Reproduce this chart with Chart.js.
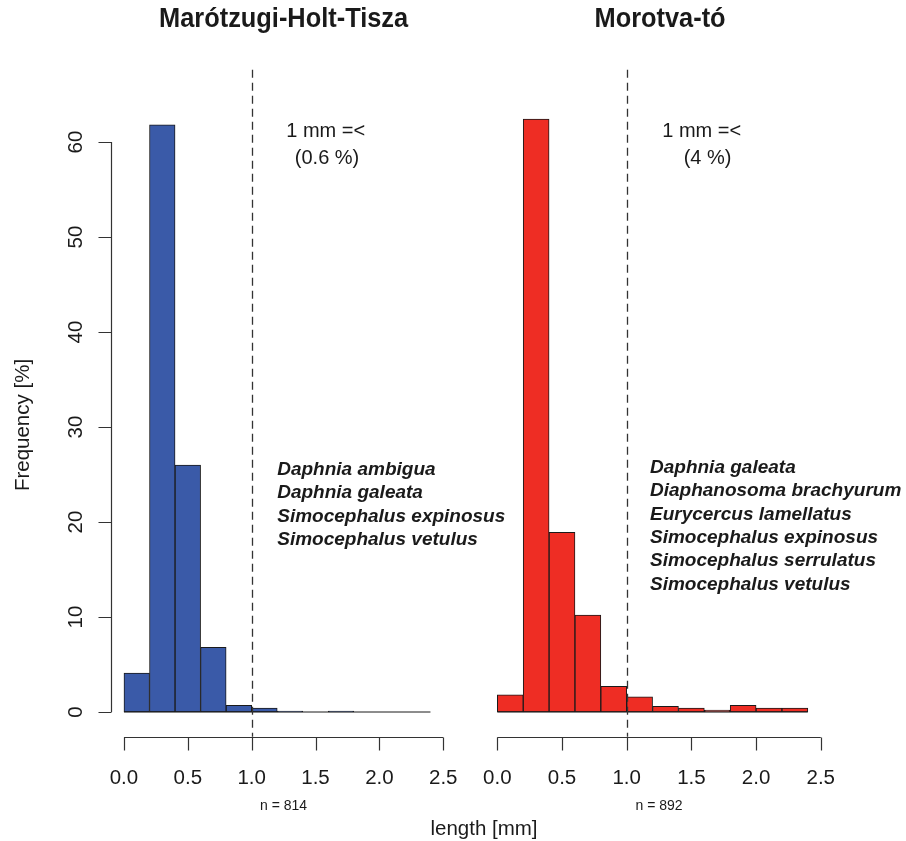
<!DOCTYPE html>
<html>
<head>
<meta charset="utf-8">
<title>Cladocera length distributions</title>
<script src="https://cdn.jsdelivr.net/npm/chart.js@4.4.0/dist/chart.umd.min.js"></script>
<style>
  html, body { margin: 0; padding: 0; background: #ffffff; }
  #wrap { position: relative; width: 906px; height: 841px; overflow: hidden; }
  #wrap canvas { position: absolute; left: 0; top: 0; }
</style>
</head>
<body>
<div id="wrap">
  <canvas id="panelLeft" width="906" height="841"></canvas>
  <canvas id="panelRight" width="906" height="841"></canvas>
</div>
<script>
// Histogram bin edges (mm) shared by both lakes
const breaks = [0.0, 0.2, 0.4, 0.6, 0.8, 1.0, 1.2, 1.4, 1.6, 1.8, 2.0, 2.2, 2.4];

// Relative frequency (%) in each bin
const marotzugiFreq = [4.1, 61.8, 26.0, 6.8, 0.7, 0.4, 0.1, 0.0, 0.1, 0.0, 0.0, 0.0];
const morotvaFreq   = [1.8, 62.4, 18.9, 10.2, 2.7, 1.6, 0.6, 0.4, 0.2, 0.7, 0.4, 0.4];

// Axis ticks
const xTicks = [0, 0.5, 1.0, 1.5, 2.0, 2.5];
const xTickLabels = ['0.0', '0.5', '1.0', '1.5', '2.0', '2.5'];
const yTicks = [0, 10, 20, 30, 40, 50, 60];
const yTickLabels = ['0', '10', '20', '30', '40', '50', '60'];

// Panel texts
const panelTitles = ['Marótzugi-Holt-Tisza', 'Morotva-tó'];
const sampleSizes = ['n = 814', 'n = 892'];
const largeShare = ['(0.6 %)', '(4 %)'];
const cutoffLabel = '1 mm =<';
const cutoffMm = 1.0;
const marotzugiSpecies = ['Daphnia ambigua', 'Daphnia galeata', 'Simocephalus expinosus', 'Simocephalus vetulus'];
const morotvaSpecies = ['Daphnia galeata', 'Diaphanosoma brachyurum', 'Eurycercus lamellatus',
                        'Simocephalus expinosus', 'Simocephalus serrulatus', 'Simocephalus vetulus'];
const xAxisTitle = 'length [mm]';
const yAxisTitle = 'Frequency [%]';

const FONT = '"Liberation Sans", Arial, Helvetica, sans-serif';
const INK = '#1a1a1a';
const AXIS = '#333333';

Chart.defaults.devicePixelRatio = 1;

function binCentres(edges) {
  const out = [];
  for (let i = 0; i < edges.length - 1; i++) out.push((edges[i] + edges[i + 1]) / 2);
  return out;
}

// R-style axes, labels and annotations drawn from the chart's scales
const decorPlugin = {
  id: 'histDecor',
  afterDatasetsDraw(chart, args, o) {
    const ctx = chart.ctx;
    const xs = chart.scales.x, ys = chart.scales.y;
    const area = chart.chartArea;
    ctx.save();

    // zero-height bins still show as a line on the baseline
    ctx.strokeStyle = INK;
    ctx.lineWidth = 1;
    ctx.beginPath();
    ctx.moveTo(xs.getPixelForValue(breaks[0]), ys.getPixelForValue(0));
    ctx.lineTo(xs.getPixelForValue(breaks[breaks.length - 1]), ys.getPixelForValue(0));
    ctx.stroke();

    // dashed 1 mm threshold
    const xc = Math.round(xs.getPixelForValue(cutoffMm)) + 0.5;
    ctx.strokeStyle = AXIS;
    ctx.lineWidth = 1.3;
    ctx.setLineDash([8, 5]);
    ctx.beginPath();
    ctx.moveTo(xc, area.top);
    ctx.lineTo(xc, area.bottom);
    ctx.stroke();
    ctx.setLineDash([]);

    // x axis
    const yAxisPix = Math.round(area.bottom) + 0.5;
    ctx.strokeStyle = AXIS;
    ctx.lineWidth = 1.2;
    ctx.beginPath();
    ctx.moveTo(xs.getPixelForValue(xTicks[0]), yAxisPix);
    ctx.lineTo(xs.getPixelForValue(xTicks[xTicks.length - 1]), yAxisPix);
    xTicks.forEach(v => {
      const px = Math.round(xs.getPixelForValue(v)) + 0.5;
      ctx.moveTo(px, yAxisPix);
      ctx.lineTo(px, yAxisPix + 13);
    });
    ctx.stroke();

    ctx.fillStyle = INK;
    ctx.font = '20.5px ' + FONT;
    ctx.textAlign = 'center';
    ctx.textBaseline = 'alphabetic';
    xTicks.forEach((v, i) => ctx.fillText(xTickLabels[i], xs.getPixelForValue(v), 784));

    // y axis (left panel only)
    if (o.yAxis) {
      const xAxisPix = Math.round(area.left) + 0.5;
      ctx.beginPath();
      ctx.moveTo(xAxisPix, ys.getPixelForValue(yTicks[0]));
      ctx.lineTo(xAxisPix, ys.getPixelForValue(yTicks[yTicks.length - 1]));
      yTicks.forEach(v => {
        const py = Math.round(ys.getPixelForValue(v)) + 0.5;
        ctx.moveTo(xAxisPix, py);
        ctx.lineTo(xAxisPix - 13, py);
      });
      ctx.stroke();
      yTicks.forEach((v, i) => {
        ctx.save();
        ctx.translate(82, ys.getPixelForValue(v));
        ctx.rotate(-Math.PI / 2);
        ctx.fillText(yTickLabels[i], 0, 0);
        ctx.restore();
      });
      ctx.save();
      ctx.translate(29, 425);
      ctx.rotate(-Math.PI / 2);
      ctx.font = '20.5px ' + FONT;
      ctx.fillText(yAxisTitle, 0, 0);
      ctx.restore();
    }

    // panel title, centred over the plot region
    const cx = (area.left + area.right) / 2;
    ctx.save();
    ctx.font = 'bold 27px ' + FONT;
    ctx.translate(cx + o.titleShift, 27);
    ctx.scale(0.94, 1);
    ctx.fillText(o.title, 0, 0);
    ctx.restore();

    // sample size under the axis
    ctx.font = '14px ' + FONT;
    ctx.fillText(o.n, cx, 810);

    // share of specimens of 1 mm or more
    ctx.font = '20px ' + FONT;
    ctx.fillText(cutoffLabel, xs.getPixelForValue(o.noteX[0]), ys.getPixelForValue(60.5));
    ctx.fillText(o.share, xs.getPixelForValue(o.noteX[1]), ys.getPixelForValue(57.7));

    // species present
    ctx.font = 'italic bold 19px ' + FONT;
    ctx.textAlign = 'left';
    const sx = xs.getPixelForValue(o.speciesX);
    const sy = ys.getPixelForValue(o.speciesY);
    o.species.forEach((s, i) => ctx.fillText(s, sx, sy + i * 23.3));

    if (o.xTitle) {
      ctx.font = '20.5px ' + FONT;
      ctx.textAlign = 'center';
      ctx.fillText(o.xTitle, 484, 835);
    }
    ctx.restore();
  }
};

function makePanel(canvasId, freq, fill, pad, decor) {
  const centres = binCentres(breaks);
  return new Chart(document.getElementById(canvasId), {
    type: 'bar',
    data: {
      datasets: [{
        data: freq.map((v, i) => ({ x: centres[i], y: v })),
        backgroundColor: fill,
        borderColor: INK,
        borderWidth: 1,
        borderSkipped: false,
        barPercentage: 1.0,
        categoryPercentage: 1.0
      }]
    },
    options: {
      responsive: false,
      animation: false,
      events: [],
      layout: { padding: pad },
      scales: {
        x: {
          type: 'linear', min: -0.1, max: 2.6, display: false, offset: false,
          afterBuildTicks: s => { s.ticks = xTicks.map(v => ({ value: v })); }
        },
        y: {
          type: 'linear', min: -2.6, max: 67.6, display: false,
          afterBuildTicks: s => { s.ticks = yTicks.map(v => ({ value: v })); }
        }
      },
      plugins: {
        legend: { display: false },
        tooltip: { enabled: false },
        title: { display: false },
        histDecor: decor
      }
    },
    plugins: [decorPlugin]
  });
}

makePanel('panelLeft', marotzugiFreq, '#3A5AA8',
  { left: 111.2, right: 906 - 456.0, top: 69.8, bottom: 841 - 736.7 },
  { yAxis: true, title: panelTitles[0], titleShift: 0, n: sampleSizes[0], share: largeShare[0],
    noteX: [1.58, 1.59], species: marotzugiSpecies, speciesX: 1.2, speciesY: 24.95, xTitle: null });

makePanel('panelRight', morotvaFreq, '#EE2D24',
  { left: 484.4, right: 906 - 833.7, top: 69.8, bottom: 841 - 736.7 },
  { yAxis: false, title: panelTitles[1], titleShift: 1, n: sampleSizes[1], share: largeShare[1],
    noteX: [1.58, 1.625], species: morotvaSpecies, speciesX: 1.18, speciesY: 25.15, xTitle: xAxisTitle });
</script>
</body>
</html>
